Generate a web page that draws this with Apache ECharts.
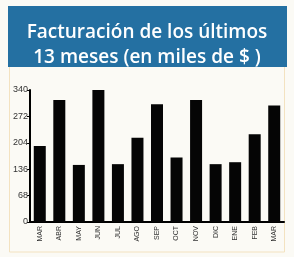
<!DOCTYPE html>
<html>
<head>
<meta charset="utf-8">
<script src="https://cdn.jsdelivr.net/npm/echarts@6/dist/echarts.min.js"></script>
<style>
  html, body { margin: 0; padding: 0; background: #fbfaf5; }
  #main { width: 294px; height: 257px; }
</style>
</head>
<body>
<div id="main"></div>
<script>
// meses y facturación (miles de $)
var meses = ['MAR', 'ABR', 'MAY', 'JUN', 'JUL', 'AGO', 'SEP', 'OCT', 'NOV', 'DIC', 'ENE', 'FEB', 'MAR'];
var facturacion = [196, 314, 147, 344, 149, 217, 303, 166, 314, 149, 154, 226, 300];
var ticksY = [0, 68, 136, 204, 272, 340];

var chart = echarts.init(document.getElementById('main'));
chart.setOption({
  backgroundColor: '#fbfaf5',
  animation: false,
  graphic: [
    { type: 'rect', shape: { x: 9.5, y: 66, width: 275, height: 186 },
      style: { fill: 'none', stroke: '#f3e2c0', lineWidth: 1 }, z: -1 },
    { type: 'rect', shape: { x: 8, y: 6, width: 279, height: 61 },
      style: { fill: '#2470a2' } }
  ],
  title: {
    text: 'Facturación de los últimos\n13 meses (en miles de $ )',
    left: 'center',
    top: 15,
    textStyle: {
      color: '#ffffff',
      fontFamily: 'Open Sans',
      fontWeight: 600,
      fontSize: 19,
      lineHeight: 25
    }
  },
  grid: { left: 30, right: 10, top: 90, bottom: 35 },
  xAxis: {
    type: 'category',
    data: meses,
    axisLine: { lineStyle: { color: '#000', width: 2 } },
    axisTick: { alignWithLabel: true, length: 3, lineStyle: { color: '#000' } },
    axisLabel: { rotate: 90, fontSize: 7, color: '#333', margin: 4, fontFamily: 'Liberation Sans' }
  },
  yAxis: {
    type: 'value',
    min: ticksY[0],
    max: ticksY[ticksY.length - 1],
    interval: 68,
    splitLine: { show: false },
    axisLine: { show: true, lineStyle: { color: '#000', width: 2 } },
    axisTick: { show: true, length: 3, lineStyle: { color: '#000' } },
    axisLabel: { fontSize: 9, color: '#333', margin: 2, fontFamily: 'Liberation Sans' }
  },
  series: [{
    type: 'bar',
    data: facturacion,
    barWidth: 12,
    itemStyle: { color: '#050505' }
  }]
});
</script>
</body>
</html>
